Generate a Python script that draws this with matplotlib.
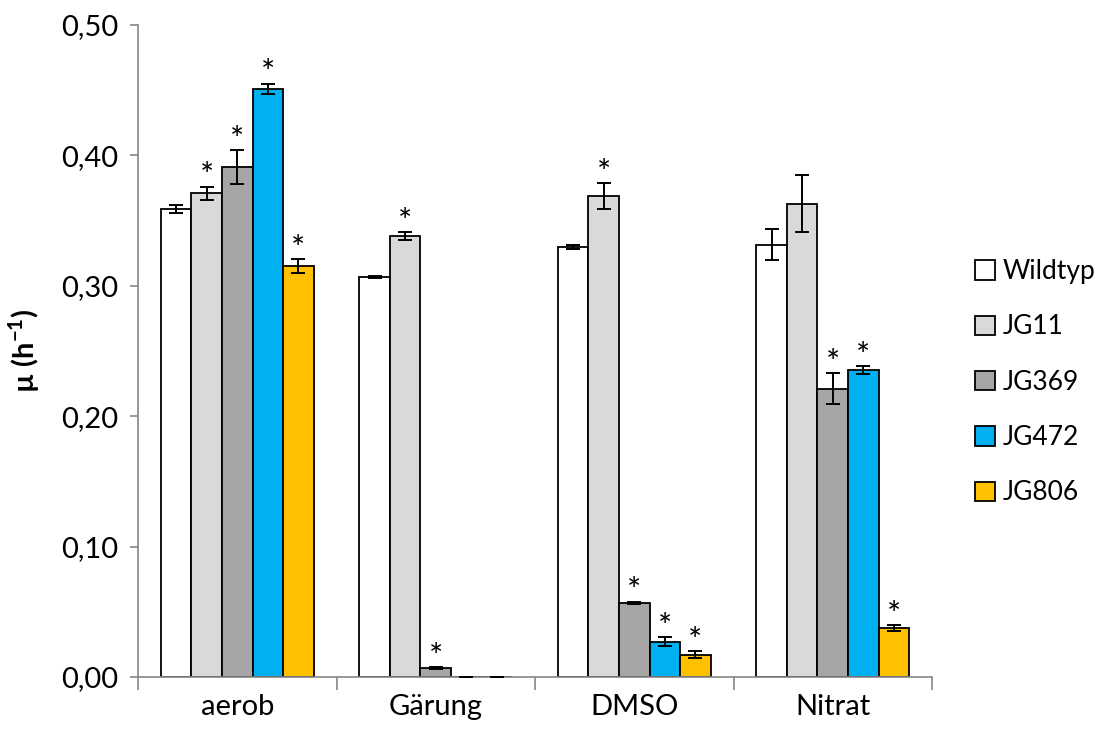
import numpy as np
import matplotlib.pyplot as plt
from matplotlib.ticker import FixedLocator, FuncFormatter

plt.rcParams['font.family'] = ['Lato', 'DejaVu Sans']
plt.rcParams['mathtext.fontset'] = 'custom'
plt.rcParams['mathtext.rm'] = 'Lato'
plt.rcParams['mathtext.bf'] = 'Lato:bold'

conditions = ['aerob', 'Gärung', 'DMSO', 'Nitrat']
strains = ['Wildtyp', 'JG11', 'JG369', 'JG472', 'JG806']
colors = ['#FFFFFF', '#D9D9D9', '#A6A6A6', '#00B0F0', '#FFC000']

# growth rate per strain, one value per condition
wildtyp = [0.359, 0.3065, 0.3295, 0.3315]
jg11 = [0.371, 0.338, 0.369, 0.363]
jg369 = [0.391, 0.0067, 0.0567, 0.221]
jg472 = [0.451, 0.0, 0.027, 0.2354]
jg806 = [0.315, 0.0, 0.017, 0.0376]

wildtyp_err = [0.003, 0.0008, 0.0015, 0.012]
jg11_err = [0.005, 0.003, 0.0098, 0.022]
jg369_err = [0.013, 0.0008, 0.001, 0.012]
jg472_err = [0.004, 0.0, 0.0033, 0.003]
jg806_err = [0.0055, 0.0, 0.0027, 0.002]

# significance markers
wildtyp_sig = [False, False, False, False]
jg11_sig = [True, True, True, False]
jg369_sig = [True, True, True, True]
jg472_sig = [True, False, True, True]
jg806_sig = [True, False, True, True]

values = [wildtyp, jg11, jg369, jg472, jg806]
errors = [wildtyp_err, jg11_err, jg369_err, jg472_err, jg806_err]
sigs = [wildtyp_sig, jg11_sig, jg369_sig, jg472_sig, jg806_sig]

fig = plt.figure(figsize=(11.03, 7.33), dpi=100)
ax = fig.add_axes([138 / 1103, 1 - 677 / 733, (932 - 138) / 1103, (677 - 25) / 733])

x = np.arange(len(conditions))
width = 0.77 / len(strains)

for i, (name, vals, errs, sig, col) in enumerate(zip(strains, values, errors, sigs, colors)):
    pos = x + (i - 2) * width
    ax.bar(pos, vals, width, color=col, edgecolor='black', linewidth=1.3, label=name, zorder=2)
    ax.errorbar(pos, vals, yerr=errs, fmt='none', ecolor='black', elinewidth=1.4,
                capsize=5, capthick=1.4, zorder=3)
    for p, v, e, s in zip(pos, vals, errs, sig):
        if s:
            ax.annotate('*', (p, v + e), xytext=(0, -4), textcoords='offset points',
                        ha='center', va='bottom', fontsize=24)

ax.set_xlim(-0.5, 3.5)
ax.set_ylim(0, 0.5)
ax.set_yticks(np.arange(0, 0.51, 0.1))
ax.yaxis.set_major_formatter(FuncFormatter(lambda v, _: f'{v:.2f}'.replace('.', ',')))
ax.set_xticks(x)
ax.set_xticklabels(conditions)
ax.xaxis.set_minor_locator(FixedLocator(np.arange(-0.5, 3.6, 1.0)))
ax.tick_params(axis='x', which='major', length=0, labelsize=21, pad=12)
ax.tick_params(axis='x', which='minor', length=9, width=1.2, color='#868686', direction='out')
ax.tick_params(axis='y', length=6, width=1.2, color='#868686', labelsize=21, pad=8)

for side in ['top', 'right']:
    ax.spines[side].set_visible(False)
for side in ['left', 'bottom']:
    ax.spines[side].set_color('#868686')
    ax.spines[side].set_linewidth(1.2)

ax.set_ylabel(r'µ (h$^{\mathbf{-1}}$)', fontsize=21, fontweight='bold', labelpad=14)

ax.legend(loc='center left', bbox_to_anchor=(1.054, 0.452), frameon=False, fontsize=19,
          borderpad=0, borderaxespad=0,
          handlelength=0.75, handleheight=0.75, handletextpad=0.3, labelspacing=1.15)

fig.savefig('out.png', dpi=100)
